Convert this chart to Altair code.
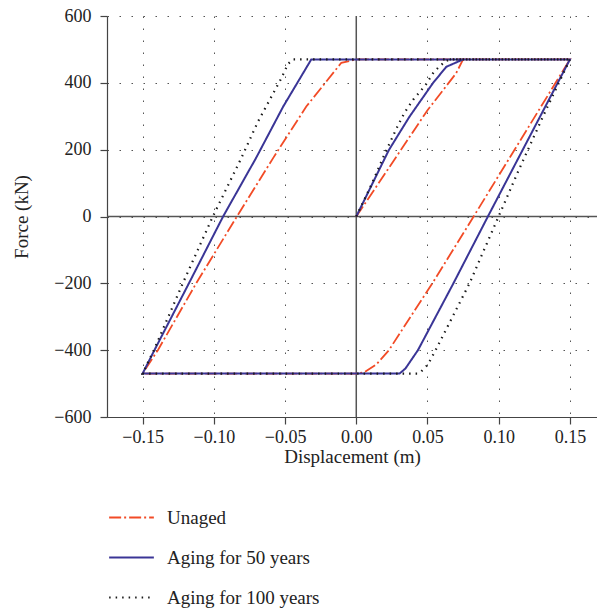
import altair as alt
import pandas as pd

SERIES = ["Unaged", "Aging for 50 years", "Aging for 100 years"]

unaged_x = [0, 0.05, 0.07, 0.075, 0.15, 0.0824, 0.0534, 0.0229, 0.014, 0.0058, 0.0,
            -0.15, -0.1393, -0.1124, -0.0838, -0.0585, -0.0351, -0.0105, 0.0, 0.15]
unaged_y = [0, 318, 428, 470, 470, 0, -200, -400, -443, -466, -470,
            -470, -400, -200, 0, 174, 329, 460, 470, 470]

aged50_x = [0, 0.0229, 0.0374, 0.0538, 0.0632, 0.075, 0.15, 0.0924, 0.0682, 0.0433, 0.0345, 0.0304,
            -0.15, -0.1417, -0.1175, -0.0935, -0.0705, -0.0513, -0.0316, 0.15]
aged50_y = [0, 199, 299, 399, 448, 470, 470, 0, -200, -400, -455, -470,
            -470, -400, -200, 0, 174, 329, 470, 470]

aged100_x = [0, 0.0103, 0.0191, 0.0285, 0.0339, 0.0402, 0.0486, 0.0545, 0.0625, 0.066, 0.15,
             0.1334, 0.1147, 0.0999, 0.0795, 0.0557, 0.0503, 0.0451, 0.043,
             -0.15, -0.1421, -0.1218, -0.1007, -0.0808, -0.069, -0.0527, -0.048, -0.0445, 0.15]
aged100_y = [0, 92, 179, 266, 311, 351, 393, 433, 465, 470, 470,
             321, 145, 0, -200, -400, -443, -466, -470,
             -470, -400, -200, 0, 174, 284, 413, 456, 470, 470]

x_ticks = [-0.15, -0.10, -0.05, 0.0, 0.05, 0.10, 0.15]
y_ticks = [-600, -400, -200, 0, 200, 400, 600]

rows = []
for name, xs, ys in zip(SERIES, [unaged_x, aged50_x, aged100_x], [unaged_y, aged50_y, aged100_y]):
    for i, (a, b) in enumerate(zip(xs, ys)):
        rows.append({"series": name, "idx": i, "disp": a, "force": b})
df = pd.DataFrame(rows)

FONT = "Liberation Serif"
colors = ["#f24b26", "#3a3596", "#1a1a1a"]
dashes = [[12, 3, 2, 3], [1, 0], [1.5, 5]]
widths = [1.8, 2.2, 1.6]

legend = alt.Legend(title=None, orient="none", legendX=1, legendY=478,
                    symbolType="stroke", symbolSize=2000, symbolStrokeWidth=1.6,
                    labelFont=FONT, labelFontSize=19, labelColor="#222",
                    labelOffset=12, rowPadding=6, padding=0)

xscale = alt.Scale(domain=[-0.175, 0.169], nice=False, zero=False)
yscale = alt.Scale(domain=[-600, 600], nice=False)

lines = alt.Chart(df).mark_line(clip=True).encode(
    x=alt.X("disp:Q", scale=xscale,
            axis=alt.Axis(title="Displacement (m)", values=x_ticks, format=".2f",
                          tickSize=7, labelPadding=4, titlePadding=1)),
    y=alt.Y("force:Q", scale=yscale,
            axis=alt.Axis(title="Force (kN)", values=y_ticks,
                          tickSize=7, labelPadding=9, titlePadding=22)),
    color=alt.Color("series:N", scale=alt.Scale(domain=SERIES, range=colors), legend=legend),
    strokeDash=alt.StrokeDash("series:N", scale=alt.Scale(domain=SERIES, range=dashes), legend=legend),
    strokeWidth=alt.StrokeWidth("series:N", scale=alt.Scale(domain=SERIES, range=widths), legend=None),
    order="idx:Q",
)

zx = alt.Chart(pd.DataFrame({"disp": [0.0]})).mark_rule(color="#555", strokeWidth=1.5).encode(
    x=alt.X("disp:Q", scale=xscale))
zy = alt.Chart(pd.DataFrame({"force": [0]})).mark_rule(color="#555", strokeWidth=1.5).encode(
    y=alt.Y("force:Q", scale=yscale))

chart = alt.layer(zx, zy, lines).properties(
    width=490, height=401,
    padding={"left": 107, "top": 16, "right": 0, "bottom": 195},
    autosize=alt.AutoSizeParams(type="none"),
    background="white",
).configure_view(stroke=None).configure_axis(
    labelFont=FONT, titleFont=FONT, labelFontSize=18, titleFontSize=19,
    titleFontWeight="normal", labelColor="#222", titleColor="#222",
    domainColor="#444", tickColor="#444", domainWidth=1.2, tickWidth=1.2,
    gridColor="#555", gridDash=[1.5, 10.5], gridWidth=1, grid=True,
)

chart.save("out.html", embed_options={"renderer": "svg", "actions": False})
